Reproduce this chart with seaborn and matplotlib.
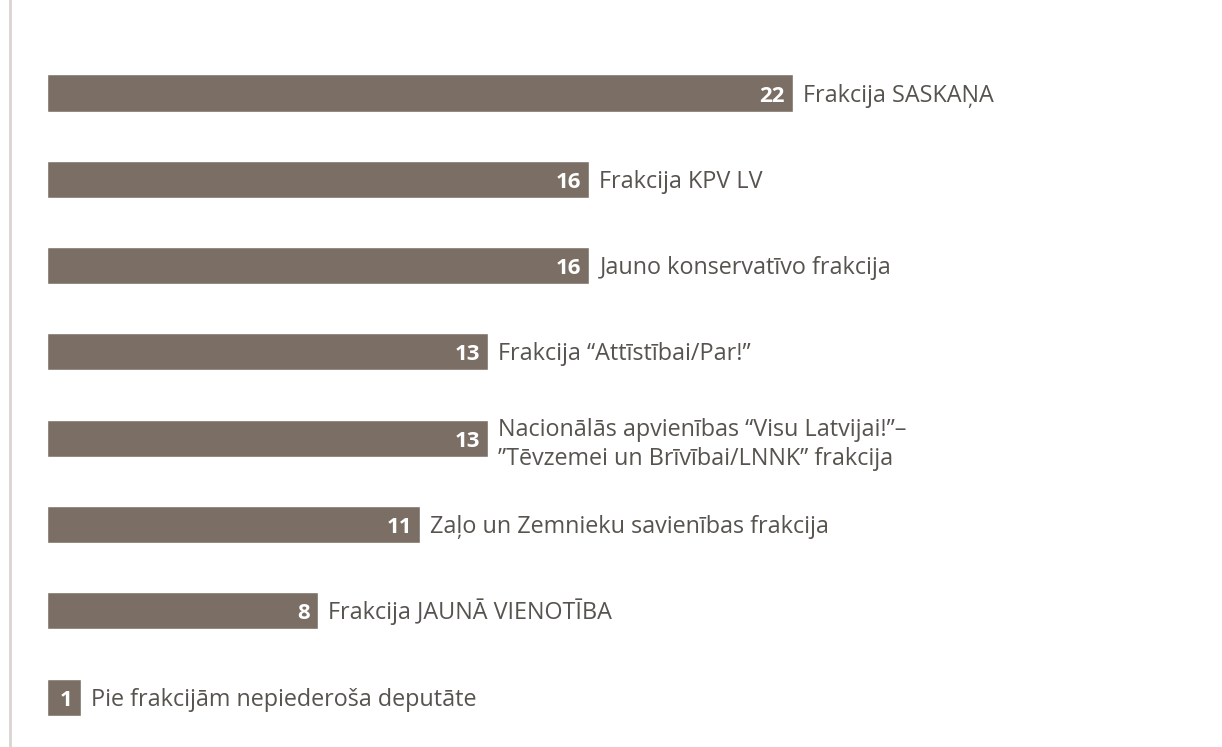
import matplotlib
matplotlib.use('Agg')
import matplotlib.pyplot as plt
import seaborn as sns

sns.set_style('white')
plt.rcParams['font.family'] = ['Open Sans', 'DejaVu Sans']

# === DATA ===
factions = [
    'Frakcija SASKAŅA',
    'Frakcija KPV LV',
    'Jauno konservatīvo frakcija',
    'Frakcija “Attīstībai/Par!”',
    'Nacionālās apvienības “Visu Latvijai!”–\n”Tēvzemei un Brīvībai/LNNK” frakcija',
    'Zaļo un Zemnieku savienības frakcija',
    'Frakcija JAUNĀ VIENOTĪBA',
    'Pie frakcijām nepiederoša deputāte',
]
seats = [22, 16, 16, 13, 13, 11, 8, 1]

bar_color = '#7b6f65'
text_color = '#57534f'

fig = plt.figure(figsize=(12.22, 7.47), dpi=100)
ax = fig.add_axes([0, 0, 1, 1])

sns.barplot(x=seats, y=list(range(len(seats))), orient='h', color=bar_color,
            width=0.43, saturation=1, ax=ax)

# layout: ~33.9 px per seat, bars start at x=47, rows 86.3 px apart
px_x = 33.9
px_y = 86.3
ax.set_xlim(-47 / px_x, (1222 - 47) / px_x)
ax.set_ylim((747 - 93) / px_y, -93 / px_y)
ax.axis('off')

for i, (v, name) in enumerate(zip(seats, factions)):
    base = i + 8.5 / px_y  # baseline so caps sit centred on the bar
    ax.text(v - 8 / px_x, base, str(v), ha='right', va='baseline',
            color='white', fontsize=16, fontweight='bold')
    if '\n' in name:
        base = i + 27 / px_y
    ax.text(v + 10 / px_x, base, name, ha='left', va='baseline',
            color=text_color, fontsize=16.8, linespacing=1.3)

# thin vertical rule at the left edge
fig.add_artist(plt.Line2D([10 / 1222, 10 / 1222], [0, 1], color='#d9d4d0',
                          linewidth=2, transform=fig.transFigure))

plt.savefig('out.png', dpi=100)
